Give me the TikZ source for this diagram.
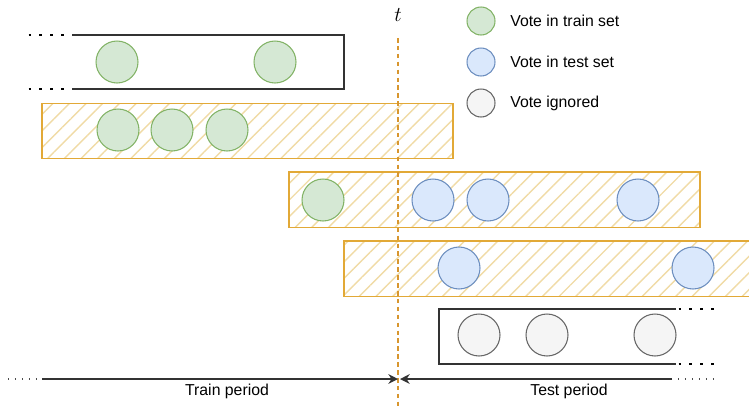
\documentclass[tikz,border=0pt]{standalone}
\usepackage{fontspec}
\setmainfont{Liberation Sans}
\usepackage{tikz}
\usetikzlibrary{arrows.meta,patterns.meta}
\definecolor{ctrain}{HTML}{82B366}
\definecolor{ctest}{HTML}{6C8EBF}
\definecolor{cign}{HTML}{666666}
\definecolor{cbgtrain}{HTML}{D5E8D4}
\definecolor{cbgtest}{HTML}{DAE8FC}
\definecolor{cbgign}{HTML}{F5F5F5}
\definecolor{cwin}{HTML}{E2A937}
\definecolor{chatch}{HTML}{F0DBA6}
\definecolor{ccut}{HTML}{D8962E}
\definecolor{cline}{HTML}{333333}
\tikzset{
  vote/.style={circle,draw,line width=0.6pt,minimum size=0.84cm,inner sep=0pt},
  vtrain/.style={vote,draw=ctrain,fill=cbgtrain},
  vtest/.style={vote,draw=ctest,fill=cbgtest},
  vign/.style={vote,draw=cign,fill=cbgign},
  legvote/.style={minimum size=0.56cm},
  win/.style={draw=cwin,line width=0.85pt,minimum width=8.22cm,minimum height=1.11cm,inner sep=0pt,
    pattern={Lines[angle=45,distance=6.7pt,line width=0.8pt]},pattern color=chatch},
  legtxt/.style={anchor=west,font=\fontsize{9}{11}\selectfont,inner sep=0pt},
}

\begin{document}
\begin{tikzpicture}[
  x=0.02cm, y=-0.02cm,
  openbox/.style={draw=cline, line width=0.85pt},
  bigdots/.style={draw=black, line width=1.25pt, dash pattern=on 1.25pt off 4.99pt},
  smalldots/.style={draw=black!70, line width=0.6pt, dash pattern=on 0.6pt off 3.37pt},
  period/.style={-{Stealth[length=5.5pt,width=5.5pt,inset=1.8pt]}, draw=cline, line width=0.85pt},
  cut/.style={draw=ccut, line width=1pt, dash pattern=on 2.6pt off 1.9pt},
  plab/.style={font=\fontsize{9}{11}\selectfont, inner sep=0pt},
]
\useasboundingbox (0,0) rectangle (749,406);
\clip (0,0) rectangle (749,406);

% ================= windows =================
\draw[openbox] (72,35) -- (344,35) -- (344,89) -- (72,89);
\draw[bigdots] (28.5,35) -- (64,35);
\draw[bigdots] (28.5,89) -- (64,89);

\node[win] (win1) at (247.5,131) {};
\node[win] (win2) at (494.5,199.5) {};
\node[win] (win3) at (549.5,268.5) {};

\draw[openbox] (676,309) -- (439,309) -- (439,364) -- (676,364);
\draw[bigdots] (678.5,309) -- (714,309);
\draw[bigdots] (678.5,364) -- (714,364);

% ================= votes =================
\node[vtrain] (a1) at (117,62) {};
\node[vtrain] (a2) at (275,62) {};

\node[vtrain] (b1) at (118,130) {};
\node[vtrain] (b2) at (172,130) {};
\node[vtrain] (b3) at (227,130) {};

\node[vtrain] (c1) at (323,200) {};
\node[vtest] (c2) at (433,200) {};
\node[vtest] (c3) at (488,200) {};
\node[vtest] (c4) at (638,200) {};

\node[vtest] (d1) at (459,268) {};
\node[vtest] (d2) at (693,268) {};

\node[vign] (e1) at (479,335) {};
\node[vign] (e2) at (547,335) {};
\node[vign] (e3) at (655,335) {};

% ================= cut at t =================
\node[font=\fontsize{12}{14}\selectfont, inner sep=0pt] (tlab) at (398,15) {$t$};
\coordinate (cuttop) at (398,38);
\coordinate (cutbot) at (398,406);
\draw[cut] (cuttop) -- (cutbot);

% ================= periods =================
\coordinate (trainL) at (42,379);
\coordinate (trainR) at (398,379);
\coordinate (testL) at (400,379);
\coordinate (testR) at (672,379);
\draw[period] (trainL) -- (trainR);
\draw[period] (testR) -- (testL);
\draw[smalldots] (8,379) -- (40,379);
\draw[smalldots] (678,379) -- (716,379);
\node[plab] (trainlbl) at (227,391) {Train period};
\node[plab] (testlbl) at (569,391) {Test period};

% ================= legend =================
\node[vtrain,legvote] (legtrain) at (481,21) {};
\node[vtest,legvote] (legtest) at (481,62) {};
\node[vign,legvote] (legign) at (481,103) {};
\node[legtxt] (ltrain) at (510,21) {Vote in train set};
\node[legtxt] (ltest) at (510,62) {Vote in test set};
\node[legtxt] (lign) at (510,103) {Vote ignored};
\end{tikzpicture}
\end{document}
